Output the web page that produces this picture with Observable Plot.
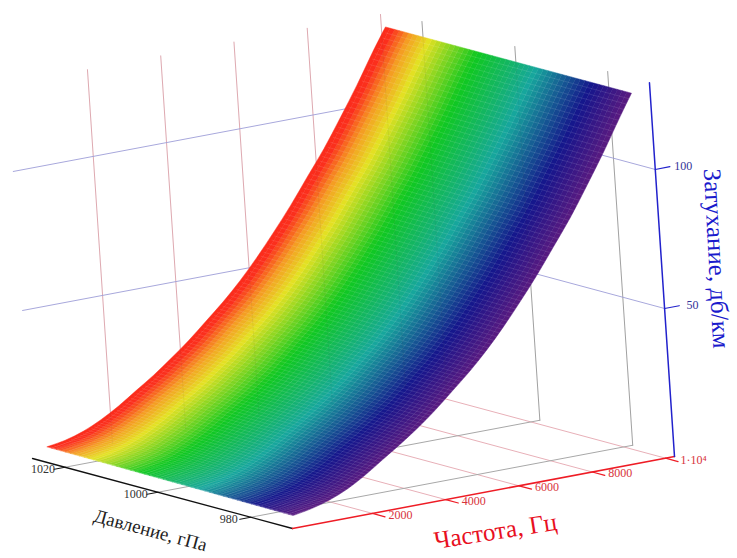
<!DOCTYPE html>
<html>
<head>
<meta charset="utf-8">
<script src="https://cdn.jsdelivr.net/npm/d3@7"></script>
<script src="https://cdn.jsdelivr.net/npm/@observablehq/plot@0.6"></script>
<style>html,body{margin:0;padding:0;background:#fff}svg{display:block}</style>
</head>
<body>
<div id="chart"></div>
<script>
// Values
const frequencies = [0,500,1000,1500,2000,2500,3000,3500,4000,4500,5000,5500,6000,6500,7000,7500,8000,8500,9000,9500,9877];
const attenuationHighPressure = [4.1,5.1,6.9,9.6,13.0,17.0,21.0,25.5,30.3,35.7,41.2,47.4,54.4,62.1,70.3,79.3,88.3,98.5,109.2,120.8,129.1];
const attenuationLowPressure = [3.3,4.4,6.1,8.6,12.0,16.0,20.0,24.3,29.1,34.5,40.0,46.2,53.2,60.9,69.1,78.1,87.3,97.7,108.6,120.4,129.1];
const pressureRange = [972, 1024.5];
const pressureTicks = [980,1000,1020];
const frequencyTicks = [2000,4000,6000,8000,10000];
const frequencyLabels = ["2000","4000","6000","8000","1·10⁴"];
const attenuationTicks = [50,100];
const colorStops = [0,0.03,0.1,0.18,0.38,0.62,0.85,1];
const colorRange = ["#fb2a1c","#fb2f1c","#f59a22","#e4e022","#10c820","#16a69c","#15158c","#561a80"];

// Box limits of the three axes
const fMin = -184, fMax = 10245, pMin = 971, pMax = 1027, wMax = 132.8;

// Camera: floor is a parallelogram, height is slightly foreshortened
function project(f, p, w) {
  const t = (f - fMin) / (fMax - fMin), s = (p - pMin) / (pMax - pMin);
  const h = 3.056 * w / (1 + 0.000647 * w);
  return [292 + 382 * t - 260 * s - 0.067 * h, 528 - 72 * t - 70 * s - h];
}
const seg = (a, b, id) => {
  const A = project(...a), B = project(...b);
  return [{x: A[0], y: A[1], id}, {x: B[0], y: B[1], id}];
};

// Surface strips
const pStep = 1;
const pressures = d3.range(pressureRange[0], pressureRange[1], pStep);
const atten = (i, p) => {
  const u = (p - pressureRange[0]) / (pressureRange[1] - pressureRange[0]);
  return attenuationLowPressure[i] * (1 - u) + attenuationHighPressure[i] * u;
};
const strips = pressures.flatMap(p => frequencies.map((f, i) => {
  const a = project(f, p, atten(i, p));
  const b = project(f, p + pStep, atten(i, p + pStep));
  return {p, x1: a[0], y1: a[1], x2: b[0], y2: b[1]};
}));
// Mesh lines of the surface
const meshF = d3.range(40, 9877, 80);
const attAt = (f, p) => {
  const i = Math.min(d3.bisectRight(frequencies, f) - 1, frequencies.length - 2);
  const v = (f - frequencies[i]) / (frequencies[i + 1] - frequencies[i]);
  return atten(i, p) * (1 - v) + atten(i + 1, p) * v;
};
const mesh = meshF.flatMap(f => [pressureRange[0], pressureRange[1]].map(p => {
  const a = project(f, p, attAt(f, p));
  return {x: a[0], y: a[1], id: f};
}));

// Grids
const gridRed = [
  ...frequencyTicks.flatMap(f => seg([f, pMin, 0], [f, pMax, 0], "fl" + f)),
  ...frequencyTicks.flatMap(f => seg([f, pMax, 0], [f, pMax, wMax], "wl" + f))
];
const gridGray = [
  ...pressureTicks.flatMap(p => seg([fMin, p, 0], [fMax, p, 0], "fl" + p)),
  ...pressureTicks.flatMap(p => seg([fMax, p, 0], [fMax, p, wMax], "wl" + p))
];
const gridBlue = attenuationTicks.flatMap(w => [
  ...seg([fMin, pMax, w], [fMax, pMax, w], "a" + w),
  ...seg([fMax, pMax, w], [fMax, pMin, w], "b" + w)
]);
const through = [
  ...frequencyTicks.flatMap(f => seg([f, pMax, 0], [f, pMax, wMax], "wl" + f)),
  ...pressureTicks.flatMap(p => seg([fMax, p, 0], [fMax, p, wMax], "wl" + p))
];

// Axes and ticks
const redTicks = frequencyTicks.flatMap(f => seg([f, pMin, 0], [f, pMin - 2.7, 0], "t" + f));
const blackTicks = pressureTicks.flatMap(p => seg([fMin, p, 0], [fMin - 300, p, 0], "t" + p));
const blueTicks = attenuationTicks.flatMap(w => seg([fMax, pMin, w], [fMax + 400, pMin, w], "t" + w));
const lab = (pt, dx, dy, text) => ({x: pt[0] + dx, y: pt[1] + dy, text});
const redLabels = frequencyTicks.map((f, i) => lab(project(f, pMin, 0), 28, 1.5, frequencyLabels[i]));
const blackLabels = pressureTicks.map(p => lab(project(fMin, p, 0), -22, 1.5, String(p)));
const blueLabels = attenuationTicks.map(w => lab(project(fMax, pMin, w), 28, -3.5, String(w)));

const serif = "Liberation Serif, Times New Roman, serif";
const line = (data, o) => Plot.line(data, {x: "x", y: "y", z: "id", ...o});

const chart = Plot.plot({
  width: 737, height: 558,
  marginTop: 0, marginRight: 0, marginBottom: 0, marginLeft: 0,
  style: {background: "#fff"},
  x: {domain: [0, 737], range: [0, 737], axis: null},
  y: {domain: [0, 558], range: [0, 558], axis: null},
  color: {
    type: "linear",
    domain: colorStops.map(c => pressureRange[1] - c * (pressureRange[1] - pressureRange[0])),
    range: colorRange
  },
  marks: [
    line(gridRed, {stroke: "#e8b0b8", strokeWidth: 1}),
    line(gridGray, {stroke: "#a8a8a8", strokeWidth: 1}),
    line(gridBlue, {stroke: "#a8a8dc", strokeWidth: 1}),
    Plot.area(strips, {x1: "x1", y1: "y1", x2: "x2", y2: "y2", z: "p", fill: "p", stroke: "p", strokeWidth: 0.5, curve: "catmull-rom"}),
    line(mesh, {stroke: "#fff", strokeOpacity: 0.14, strokeWidth: 0.8}),
    line(through, {stroke: "#444", strokeOpacity: 0.06, strokeWidth: 1}),
    line(seg([fMin, pMax, 0], [fMin, pMin, 0], "p"), {stroke: "#111", strokeWidth: 1.3}),
    line(seg([fMin, pMin, 0], [fMax, pMin, 0], "f"), {stroke: "#ee1c25", strokeWidth: 1.5}),
    line(seg([fMax, pMin, 0], [fMax, pMin, wMax], "w"), {stroke: "#2222cc", strokeWidth: 1.5}),
    line(blackTicks, {stroke: "#111", strokeWidth: 1}),
    line(redTicks, {stroke: "#ee1c25", strokeWidth: 1.2}),
    line(blueTicks, {stroke: "#2222cc", strokeWidth: 1.2}),
    Plot.text(blackLabels, {x: "x", y: "y", text: "text", fill: "#333", fontSize: 12, fontFamily: serif}),
    Plot.text(redLabels, {x: "x", y: "y", text: "text", fill: "#d8333c", fontSize: 12, fontFamily: serif}),
    Plot.text(blueLabels, {x: "x", y: "y", text: "text", fill: "#333399", fontSize: 12, fontFamily: serif}),
    Plot.text([{x: 150, y: 530, t: "Давление, гПа"}], {x: "x", y: "y", text: "t", rotate: 15, fill: "#222", fontSize: 19, fontFamily: serif}),
    Plot.text([{x: 495, y: 531, t: "Частота, Гц"}], {x: "x", y: "y", text: "t", rotate: -9, fill: "#e8101f", fontSize: 25, fontFamily: serif}),
    Plot.text([{x: 716, y: 258, t: "Затухание, дб/км"}], {x: "x", y: "y", text: "t", rotate: 87, fill: "#1a1acc", fontSize: 25, fontFamily: serif})
  ]
});
document.getElementById("chart").appendChild(chart);
</script>
</body>
</html>
